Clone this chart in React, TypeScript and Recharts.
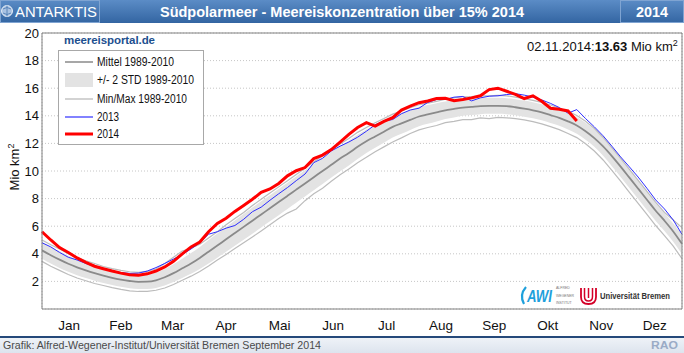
import React from "react";
import { ComposedChart, Area, Line, XAxis, YAxis, CartesianGrid } from "recharts";

const FONT = "'Liberation Sans', Arial, Helvetica, sans-serif";

// day of year, every 5 days
const days = [
  0, 5, 10, 15, 20, 25, 30, 35, 40, 45, 50, 55, 60, 65, 70, 75, 80, 85, 90, 95,
  100, 105, 110, 115, 120, 125, 130, 135, 140, 145, 150, 155, 160, 165, 170, 175, 180, 185, 190, 195,
  200, 205, 210, 215, 220, 225, 230, 235, 240, 245, 250, 255, 260, 265, 270, 275, 280, 285, 290, 295,
  300, 305, 310, 315, 320, 325, 330, 335, 340, 345, 350, 355, 360, 365,
];

// Mittel 1989-2010
const mean = [
  4.25, 3.9, 3.58, 3.28, 3.02, 2.8, 2.6, 2.42, 2.26, 2.13,
  2.03, 1.97, 1.98, 2.08, 2.3, 2.6, 2.95, 3.3, 3.7, 4.15,
  4.6, 5.05, 5.5, 5.95, 6.4, 6.85, 7.3, 7.75, 8.2, 8.65,
  9.1, 9.55, 10.0, 10.45, 10.9, 11.3, 11.75, 12.15, 12.5, 12.85,
  13.2, 13.45, 13.7, 13.95, 14.1, 14.25, 14.4, 14.5, 14.6, 14.65,
  14.7, 14.72, 14.72, 14.7, 14.62, 14.52, 14.4, 14.25, 14.05, 13.85,
  13.6, 13.3, 12.88, 12.38, 11.78, 11.08, 10.32, 9.52, 8.72, 7.92,
  7.12, 6.4, 5.62, 4.72,
];

// +/- 2 STD 1989-2010
const stdHi = [
  4.85, 4.5, 4.18, 3.86, 3.59, 3.36, 3.15, 2.95, 2.78, 2.65,
  2.55, 2.49, 2.51, 2.63, 2.9, 3.25, 3.65, 4.05, 4.5, 5.0,
  5.48, 5.95, 6.42, 6.88, 7.35, 7.8, 8.25, 8.7, 9.15, 9.6,
  10.05, 10.5, 10.95, 11.38, 11.82, 12.2, 12.63, 13.0, 13.32, 13.65,
  13.98, 14.2, 14.42, 14.65, 14.78, 14.91, 15.04, 15.12, 15.2, 15.25,
  15.28, 15.3, 15.3, 15.28, 15.2, 15.1, 14.98, 14.83, 14.63, 14.43,
  14.2, 13.9, 13.5, 13.01, 12.38, 11.63, 10.87, 10.07, 9.27, 8.47,
  7.67, 6.95, 6.2, 5.45,
];
const stdLo = [
  3.65, 3.3, 2.98, 2.7, 2.45, 2.24, 2.05, 1.89, 1.74, 1.61,
  1.51, 1.45, 1.45, 1.53, 1.7, 1.95, 2.25, 2.55, 2.9, 3.3,
  3.72, 4.15, 4.58, 5.02, 5.45, 5.9, 6.35, 6.8, 7.25, 7.7,
  8.15, 8.6, 9.05, 9.52, 9.98, 10.4, 10.87, 11.3, 11.68, 12.05,
  12.42, 12.7, 12.98, 13.25, 13.42, 13.59, 13.76, 13.88, 14.0, 14.05,
  14.12, 14.14, 14.14, 14.12, 14.04, 13.94, 13.82, 13.67, 13.47, 13.27,
  13.0, 12.7, 12.26, 11.75, 11.1, 10.35, 9.57, 8.77, 7.97, 7.17,
  6.37, 5.65, 4.87, 3.97,
];

// Min/Max 1989-2010
const maxV = [
  5.0, 4.65, 4.35, 4.0, 3.72, 3.5, 3.3, 3.08, 2.92, 2.8,
  2.7, 2.66, 2.72, 2.9, 3.3, 3.75, 4.2, 4.4, 4.7, 5.15,
  5.6, 6.1, 6.55, 7.0, 7.5, 7.95, 8.4, 8.85, 9.3, 9.75,
  10.2, 10.65, 11.1, 11.5, 11.95, 12.35, 12.8, 13.15, 13.5, 13.8,
  14.12, 14.35, 14.58, 14.8, 14.92, 15.05, 15.2, 15.3, 15.38, 15.4,
  15.45, 15.45, 15.48, 15.45, 15.35, 15.25, 15.12, 14.97, 14.78, 14.55,
  14.32, 14.02, 13.6, 13.08, 12.43, 11.68, 10.92, 10.12, 9.32, 8.52,
  7.72, 7.0, 6.45, 5.9,
];
const minV = [
  3.45, 3.1, 2.8, 2.5, 2.25, 2.05, 1.85, 1.7, 1.55, 1.42,
  1.32, 1.27, 1.28, 1.36, 1.52, 1.78, 2.08, 2.38, 2.72, 3.12,
  3.55, 3.95, 4.38, 4.8, 5.22, 5.65, 6.1, 6.55, 6.95, 7.25,
  7.85, 8.35, 8.75, 9.25, 9.72, 10.15, 10.6, 11.0, 11.4, 11.75,
  12.1, 12.4, 12.72, 12.98, 13.15, 13.3, 13.5, 13.6, 13.72, 13.72,
  13.85, 13.8, 13.88, 13.85, 13.8, 13.7, 13.58, 13.42, 13.22, 13.0,
  12.72, 12.42, 11.98, 11.45, 10.8, 10.05, 9.27, 8.45, 7.65, 6.85,
  6.05, 5.32, 4.55, 3.65,
];

const y2013 = [
  4.8, 4.5, 4.1, 3.75, 3.55, 3.3, 3.08, 2.9, 2.75, 2.64,
  2.58, 2.6, 2.75, 3.0, 3.3, 3.62, 3.95, 4.35, 4.8, 5.42,
  5.6, 5.86, 6.05, 6.5, 7.05, 7.38, 7.88, 8.35, 8.8, 9.3,
  9.78, 10.6, 10.92, 11.45, 11.8, 12.1, 12.45, 12.88, 13.35, 13.62,
  13.73, 14.15, 14.42, 14.55, 14.97, 15.18, 15.18, 15.35, 15.4, 15.08,
  15.3, 15.42, 15.45, 15.54, 15.6, 15.5, 15.35, 15.15, 14.9, 14.6,
  14.19, 14.45, 13.8, 13.2, 12.55, 11.8, 11.02, 10.3, 9.56, 8.75,
  7.9, 7.25, 6.45, 5.41,
];

// 2014 up to 02.11.2014
const y2014 = [
  5.6, 5.0, 4.45, 4.1, 3.7, 3.38, 3.1, 2.92, 2.75, 2.6,
  2.48, 2.45, 2.55, 2.75, 3.05, 3.45, 4.0, 4.5, 4.85, 5.6,
  6.2, 6.58, 7.07, 7.5, 7.95, 8.45, 8.7, 9.1, 9.65, 10.02,
  10.25, 10.9, 11.15, 11.55, 12.09, 12.65, 13.15, 13.5, 13.25, 13.6,
  13.86, 14.42, 14.7, 14.95, 15.07, 15.25, 15.27, 15.1, 15.18, 15.3,
  15.45, 15.9, 16.0, 15.78, 15.55, 15.25, 15.45, 15.05, 14.55, 14.48,
  14.35, 13.63,
];

const monthStarts = [0, 31, 59, 90, 120, 151, 181, 212, 243, 273, 304, 334, 365];
const monthMids = [15.5, 45, 74.5, 105, 135.5, 166, 196.5, 227.5, 258, 288.5, 319, 349.5];
const monthLabels = ["Jan", "Feb", "Mar", "Apr", "Mai", "Jun", "Jul", "Aug", "Sep", "Okt", "Nov", "Dez"];
const yTicks = [2, 4, 6, 8, 10, 12, 14, 16, 18, 20];

const rows = days.map((d, i) => ({
  day: d,
  mean: mean[i],
  std: [stdLo[i], stdHi[i]],
  min: minV[i],
  max: maxV[i],
  y2013: y2013[i],
  y2014: y2014[i],
}));

function MonthLabel(props: any) {
  const { x, y, payload } = props;
  const idx = monthMids.indexOf(payload.value);
  return (
    <text x={x} y={y + 21} textAnchor="middle" fontSize={13.5} fontFamily={FONT} fill="#111">
      {monthLabels[idx]}
    </text>
  );
}

function ValueLabel(props: any) {
  const { x, y, payload } = props;
  return (
    <text x={x} y={y + 4.5} textAnchor="end" fontSize={13} fontFamily={FONT} fill="#111">
      {payload.value}
    </text>
  );
}

const frame = { stroke: "#808080" };
const tickStroke = { stroke: "#555" };

export default function App() {
  return (
    <div style={{ position: "absolute", left: 0, top: 0, width: 684, height: 353, background: "#fff", fontFamily: FONT }}>
      <ComposedChart width={684} height={353} data={rows} margin={{ top: 33, right: 2, bottom: 0, left: 0 }}>
        <CartesianGrid stroke="#c6c6c6" strokeDasharray="1 2" />
        <XAxis dataKey="day" type="number" domain={[0, 365]} ticks={monthStarts} mirror tick={false} tickSize={5} axisLine={frame} tickLine={tickStroke} />
        <XAxis xAxisId="lbl" dataKey="day" type="number" domain={[0, 365]} ticks={monthMids} interval={0} height={44} axisLine={false} tickLine={false} tickSize={0} tickMargin={0} tick={<MonthLabel />} />
        <XAxis xAxisId="top" orientation="top" dataKey="day" type="number" domain={[0, 365]} ticks={monthStarts} mirror tick={false} tickSize={5} axisLine={frame} tickLine={tickStroke} />
        <YAxis type="number" domain={[0, 20]} ticks={yTicks} interval={0} width={42} axisLine={false} tickLine={false} tickSize={0} tickMargin={3} tick={<ValueLabel />} />
        <YAxis yAxisId="lm" type="number" domain={[0, 20]} ticks={yTicks} mirror tick={false} tickSize={5} axisLine={frame} tickLine={tickStroke} />
        <YAxis yAxisId="r" orientation="right" type="number" domain={[0, 20]} ticks={yTicks} mirror tick={false} tickSize={5} axisLine={frame} tickLine={tickStroke} />

        <Area dataKey="std" type="monotone" fill="#e3e3e3" fillOpacity={1} stroke="none" isAnimationActive={false} />
        <Line dataKey="min" type="linear" stroke="#bcbcbc" strokeWidth={1.2} dot={false} activeDot={false} isAnimationActive={false} />
        <Line dataKey="max" type="linear" stroke="#bcbcbc" strokeWidth={1.2} dot={false} activeDot={false} isAnimationActive={false} />
        <Line dataKey="mean" type="monotone" stroke="#8a8a8a" strokeWidth={1.8} dot={false} activeDot={false} isAnimationActive={false} />
        <Line dataKey="y2013" type="linear" stroke="#2e2eff" strokeWidth={1} dot={false} activeDot={false} isAnimationActive={false} />
        <Line dataKey="y2014" type="linear" stroke="#ff0000" strokeWidth={3} dot={false} activeDot={false} isAnimationActive={false} />
      </ComposedChart>

      <svg width={684} height={353} style={{ position: "absolute", left: 0, top: 0, pointerEvents: "none" }} fontFamily={FONT}>
        <defs>
          <linearGradient id="hdr" x1="0" y1="0" x2="0" y2="1">
            <stop offset="0" stopColor="#5b8cc6" />
            <stop offset="1" stopColor="#3365a2" />
          </linearGradient>
          <linearGradient id="ftr" x1="0" y1="0" x2="0" y2="1">
            <stop offset="0" stopColor="#eef2f7" />
            <stop offset="1" stopColor="#dde4ee" />
          </linearGradient>
        </defs>

        {/* header */}
        <rect x={0} y={0} width={684} height={23} fill="url(#hdr)" />
        <rect x={0.5} y={0.5} width={99} height={22} fill="none" stroke="#7fa4d2" />
        <rect x={620.5} y={0.5} width={63} height={22} fill="none" stroke="#7fa4d2" />
        <circle cx={7} cy={11} r={5.5} fill="#a9c2e2" stroke="#ffffff" strokeWidth={0.8} />
        <path d="M3,9 Q7,6 11,9 M3,13 Q7,16 11,13 M7,5.5 L7,16.5" stroke="#4a78b0" strokeWidth={0.8} fill="none" />
        <text x={15} y={17} fontSize={15} fill="#fff" textLength={82} lengthAdjust="spacingAndGlyphs">ANTARKTIS</text>
        <text x={160} y={17} fontSize={15} fontWeight="bold" fill="#fff" textLength={364} lengthAdjust="spacingAndGlyphs">
          Südpolarmeer - Meereiskonzentration über 15% 2014
        </text>
        <text x={636} y={17} fontSize={15} fontWeight="bold" fill="#fff" textLength={32} lengthAdjust="spacingAndGlyphs">2014</text>

        {/* y axis title */}
        <text transform="translate(19,167) rotate(-90)" textAnchor="middle" fontSize={13} fill="#111">
          Mio km<tspan dy={-5} fontSize={9}>2</tspan>
        </text>

        {/* site label */}
        <text x={64} y={44} fontSize={11.5} fontWeight="bold" fill="#1d4f8f" textLength={91} lengthAdjust="spacing">meereisportal.de</text>

        {/* legend */}
        <rect x={58.5} y={50.5} width={145} height={94} fill="#fff" stroke="#a8a8a8" />
        <line x1={65} x2={93} y1={62} y2={62} stroke="#8a8a8a" strokeWidth={1.5} />
        <rect x={65} y={73} width={28} height={14} fill="#e3e3e3" />
        <line x1={65} x2={93} y1={99} y2={99} stroke="#c4c4c4" strokeWidth={1.5} />
        <line x1={65} x2={93} y1={117} y2={117} stroke="#2e2eff" strokeWidth={1.2} />
        <line x1={65} x2={93} y1={134} y2={134} stroke="#ff0000" strokeWidth={3} />
        <text x={97} y={66} fontSize={12} fill="#111" textLength={77} lengthAdjust="spacingAndGlyphs">Mittel 1989-2010</text>
        <text x={97} y={84} fontSize={12} fill="#111" textLength={97} lengthAdjust="spacingAndGlyphs">+/- 2 STD 1989-2010</text>
        <text x={97} y={103} fontSize={12} fill="#111" textLength={90} lengthAdjust="spacingAndGlyphs">Min/Max 1989-2010</text>
        <text x={97} y={121} fontSize={12} fill="#111" textLength={22} lengthAdjust="spacingAndGlyphs">2013</text>
        <text x={97} y={138} fontSize={12} fill="#111" textLength={22} lengthAdjust="spacingAndGlyphs">2014</text>

        {/* current value */}
        <text x={527} y={51} fontSize={13} fill="#111">
          02.11.2014:<tspan fontWeight="bold">13.63</tspan> Mio km<tspan dy={-5} fontSize={9}>2</tspan>
        </text>

        {/* logos */}
        <rect x={517} y={284} width={158} height={22} fill="#fff" />
        <path d="M526,287 Q519,295 524,304" stroke="#1ea0dc" strokeWidth={2.2} fill="none" />
        <text x={527} y={302} fontSize={17} fontWeight="bold" fontStyle="italic" fill="#1ea0dc" textLength={25} lengthAdjust="spacingAndGlyphs">AWI</text>
        <text x={556} y={289} fontSize={3.5} fill="#777">ALFRED</text>
        <text x={556} y={296.5} fontSize={3.5} fill="#777">WEGENER</text>
        <text x={556} y={304} fontSize={3.5} fill="#777">INSTITUT</text>
        <path d="M581,288 V297 Q581,304 588.5,304 Q596,304 596,297 V288" stroke="#d40028" strokeWidth={1.8} fill="none" />
        <path d="M584.5,288 V296.5 Q584.5,301 588.5,301 Q592.5,301 592.5,296.5 V288" stroke="#d40028" strokeWidth={1.5} fill="none" />
        <path d="M588.5,288 V298" stroke="#d40028" strokeWidth={1.5} />
        <text x={600} y={299} fontSize={8.8} fontWeight="bold" fill="#333" textLength={70} lengthAdjust="spacingAndGlyphs">Universität Bremen</text>

        {/* footer */}
        <rect x={0} y={336} width={684} height={2} fill="#25497a" />
        <rect x={0} y={338} width={684} height={15} fill="url(#ftr)" />
        <text x={3} y={349} fontSize={10.5} fill="#4a4a4a" textLength={318} lengthAdjust="spacingAndGlyphs">
          Grafik: Alfred-Wegener-Institut/Universität Bremen September 2014
        </text>
        <text x={651} y={349} fontSize={11} fontWeight="bold" fill="#9aabc6" textLength={27} lengthAdjust="spacingAndGlyphs">RAO</text>
      </svg>
    </div>
  );
}
